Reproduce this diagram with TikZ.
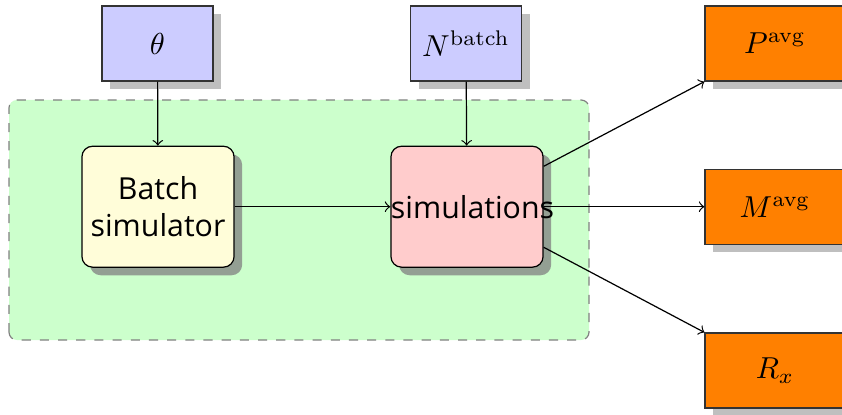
\documentclass[tikz,border=0pt]{standalone}
\usepackage[no-math]{fontspec}
\setmainfont{Open Sans}
\usetikzlibrary{shadows}

\begin{document}
\begin{tikzpicture}[x=0.33pt,y=0.33pt,
  inbox/.style={draw=black!80,fill=blue!20,minimum width=36.6pt,minimum height=24.75pt,drop shadow},
  simbox/.style={draw=black,rounded corners=3.5pt,inner sep=0pt,text width=50.2pt,align=center,minimum height=39.9pt,drop shadow={opacity=0.75}},
  outbox/.style={draw=black!80,fill=orange,minimum width=46.2pt,minimum height=24.75pt,drop shadow}]

\useasboundingbox (0,0) rectangle (842,414);

% group
\draw [dashed, draw=black!50, fill=green!20, rounded corners=2.6pt] (9,74) rectangle (589,314);

\node [inbox] (theta) at (157.5,370.5) {$\theta$};
\node [inbox] (nbatch) at (466,370.5) {$N^{\mathrm{batch}}$};

\node [simbox, fill=yellow!15] (batch) at (158,207.3) {Batch simulator};
\node [simbox, fill=red!20] (sims) at (467,207.3) {simulations};

\node [outbox] (pavg) at (775,370.5) {$P^{\mathrm{avg}}$};
\node [outbox] (mavg) at (775,207.3) {$M^{\mathrm{avg}}$};
\node [outbox] (rx) at (775,43.5) {$R_x$};

\draw [->] (theta) -- (batch);
\draw [->] (nbatch) -- (sims);
\draw [->] (batch) -- (sims);

\draw [->] (sims) -- (pavg.south west);
\draw [->] (sims) -- (mavg);
\draw [->] (sims) -- (rx.north west);

\end{tikzpicture}
\end{document}
